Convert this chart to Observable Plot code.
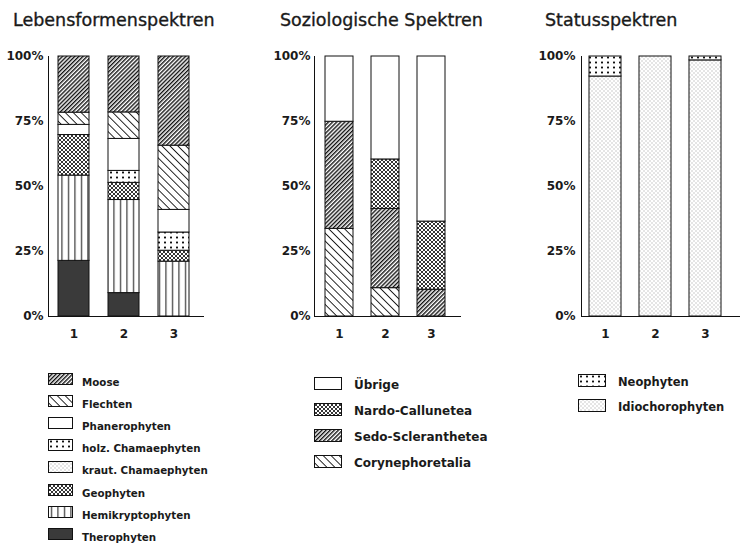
<!DOCTYPE html>
<html><head><meta charset="utf-8">
<script src="https://cdn.jsdelivr.net/npm/d3@7"></script>
<script src="https://cdn.jsdelivr.net/npm/@observablehq/plot@0.6"></script>
<style>
body{margin:0;background:#fff;}
#root{position:relative;width:740px;height:548px;overflow:hidden;font-family:"DejaVu Sans",sans-serif;color:#1a1a1a;background:#fff;}
.title{position:absolute;top:12px;font-size:17.5px;line-height:17.5px;white-space:nowrap;-webkit-text-stroke:0.35px #1a1a1a;}
.chart{position:absolute;top:40px;}
.sw{position:absolute;display:block;}
.lt{position:absolute;font-weight:bold;white-space:nowrap;}
</style>
</head><body>
<svg width="0" height="0" style="position:absolute">
<defs>
<pattern id="pHatchUp" patternUnits="userSpaceOnUse" width="2.9" height="10" patternTransform="rotate(45)"><rect width="2.9" height="10" fill="#fff"/><rect width="1.4" height="10" fill="#111"/></pattern>
<pattern id="pHatchDown" patternUnits="userSpaceOnUse" width="5.6" height="10" patternTransform="rotate(-45)"><rect width="5.6" height="10" fill="#fff"/><rect width="0.9" height="10" fill="#111"/></pattern>
<pattern id="pDots" patternUnits="userSpaceOnUse" width="6" height="5"><rect width="6" height="5" fill="#fff"/><rect x="2" y="1.6" width="2" height="1.8" fill="#111"/></pattern>
<pattern id="pStipple" patternUnits="userSpaceOnUse" width="4" height="4"><rect width="4" height="4" fill="#fff"/><rect x="0.5" y="0.5" width="1" height="1" fill="#999"/><rect x="2.5" y="2.5" width="1" height="1" fill="#999"/></pattern>
<pattern id="pCross" patternUnits="userSpaceOnUse" width="4" height="4"><rect width="4" height="4" fill="#fff"/><path d="M-1,1 l2,-2 M0,4 l4,-4 M3,5 l2,-2 M-1,3 l2,2 M0,0 l4,4 M3,-1 l2,2" stroke="#111" stroke-width="0.85"/></pattern>
<pattern id="pVert" patternUnits="userSpaceOnUse" width="6.5" height="10"><rect width="6.5" height="10" fill="#fff"/><rect x="3" width="1" height="10" fill="#111"/></pattern>
</defs></svg>
<div id="root"></div>
<script>
// ---------- data ----------
const bars = ["1", "2", "3"];
const yTicks = [0, 25, 50, 75, 100];

const titles = ["Lebensformenspektren", "Soziologische Spektren", "Statusspektren"];

// Lebensformenspektren (stack order bottom -> top)
const lfCats = ["Therophyten", "Hemikryptophyten", "Geophyten", "kraut. Chamaephyten", "holz. Chamaephyten", "Phanerophyten", "Flechten", "Moose"];
const lfValues = [
  [21.4, 32.8, 15.6, 0, 0, 3.9, 4.7, 21.6],
  [9.0, 35.8, 6.6, 0, 4.6, 12.3, 10.2, 21.5],
  [0, 21.1, 4.2, 0, 7.0, 8.7, 24.7, 34.3]
];
const lfFills = ["#3a3a3a", "url(#pVert)", "url(#pCross)", "url(#pStipple)", "url(#pDots)", "#fff", "url(#pHatchDown)", "url(#pHatchUp)"];

// Soziologische Spektren
const soCats = ["Corynephoretalia", "Sedo-Scleranthetea", "Nardo-Callunetea", "Übrige"];
const soValues = [
  [33.7, 41.2, 0, 25.1],
  [10.9, 30.5, 19.0, 39.6],
  [0, 10.3, 26.2, 63.5]
];
const soFills = ["url(#pHatchDown)", "url(#pHatchUp)", "url(#pCross)", "#fff"];

// Statusspektren
const stCats = ["Idiochorophyten", "Neophyten"];
const stValues = [
  [92.3, 7.7],
  [100, 0],
  [98.5, 1.5]
];
const stFills = ["url(#pStipple)", "url(#pDots)"];

// ---------- drawing ----------
const root = document.getElementById("root");

function chart({cats, values, fills, left, width, insetRight, paddingInner, paddingOuter, tickPadding}) {
  const rows = [];
  bars.forEach((b, i) => cats.forEach((c, j) => {
    if (values[i][j] > 0) rows.push({bar: b, cat: c, value: values[i][j]});
  }));
  const svg = Plot.plot({
    width, height: 310,
    marginLeft: 48, marginRight: 0, marginTop: 16, marginBottom: 34,
    style: {fontFamily: "DejaVu Sans", fontSize: "12px", fontWeight: "bold", color: "#1a1a1a", background: "#fff", overflow: "visible"},
    x: {domain: bars, paddingInner, paddingOuter, insetRight, label: null},
    y: {domain: [0, 100], label: null},
    color: {domain: cats, range: fills},
    marks: [
      Plot.barY(rows, {x: "bar", y: "value", fill: "cat", stroke: "#111", strokeWidth: 1}),
      Plot.frame({anchor: "left", stroke: "#111"}),
      Plot.frame({anchor: "bottom", stroke: "#111"}),
      Plot.axisX({tickSize: 0, tickPadding: 13, label: null}),
      Plot.axisY({ticks: yTicks, tickSize: 0, tickPadding, tickFormat: d => d + "%", label: null})
    ]
  });
  svg.classList.add("chart");
  svg.style.position = "absolute";
  svg.style.left = left + "px";
  svg.style.top = "40px";
  root.appendChild(svg);
}

function title(text, x) {
  const d = document.createElement("div");
  d.className = "title";
  d.style.left = x + "px";
  d.textContent = text;
  root.appendChild(d);
}

function legend({cats, fills, x, y0, step, w, h, textX, fs, textDy}) {
  const order = cats.map((c, i) => i).reverse();
  order.forEach((ci, k) => {
    const top = y0 + k * step;
    const ns = "http://www.w3.org/2000/svg";
    const s = document.createElementNS(ns, "svg");
    s.setAttribute("width", w + 1);
    s.setAttribute("height", h + 1);
    s.setAttribute("class", "sw");
    s.style.left = x + "px";
    s.style.top = top + "px";
    const r = document.createElementNS(ns, "rect");
    r.setAttribute("x", 0.5); r.setAttribute("y", 0.5);
    r.setAttribute("width", w); r.setAttribute("height", h);
    r.setAttribute("fill", fills[ci]);
    r.setAttribute("stroke", "#111");
    s.appendChild(r);
    root.appendChild(s);
    const t = document.createElement("div");
    t.className = "lt";
    t.style.left = textX + "px";
    t.style.top = (top + textDy) + "px";
    t.style.fontSize = fs + "px";
    t.style.lineHeight = fs + "px";
    t.textContent = cats[ci];
    root.appendChild(t);
  });
}

title(titles[0], 13);
title(titles[1], 280);
title(titles[2], 545);

chart({cats: lfCats, values: lfValues, fills: lfFills, left: 0, width: 203, insetRight: 5, paddingInner: 0.39, paddingOuter: 0.18, tickPadding: 5});
chart({cats: soCats, values: soValues, fills: soFills, left: 266, width: 194, insetRight: 4.6, paddingInner: 0.39, paddingOuter: 0.215, tickPadding: 4});
chart({cats: stCats, values: stValues, fills: stFills, left: 533, width: 207, insetRight: 11, paddingInner: 0.36, paddingOuter: 0.16, tickPadding: 6});

legend({cats: lfCats, fills: lfFills, x: 48, y0: 373, step: 22.1, w: 24, h: 11, textX: 82, fs: 10.3, textDy: 4});
legend({cats: soCats, fills: soFills, x: 314, y0: 376.5, step: 26.1, w: 27, h: 12, textX: 354, fs: 12, textDy: 2.4});
legend({cats: stCats, fills: stFills, x: 578, y0: 374, step: 25.3, w: 27, h: 12, textX: 618, fs: 11.5, textDy: 3});
</script>
</body></html>
